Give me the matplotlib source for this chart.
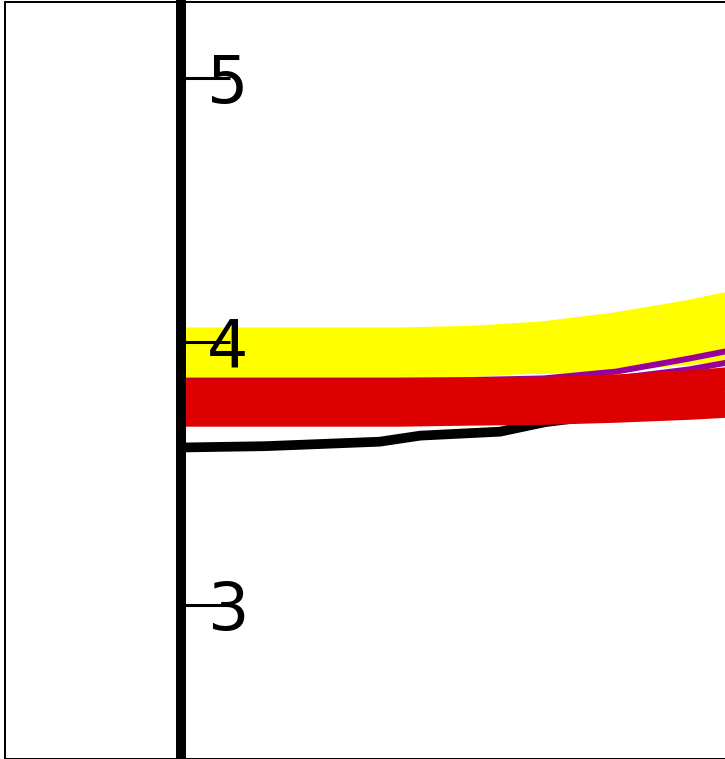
import matplotlib.pyplot as plt
from matplotlib.patches import Rectangle

# ---------- データ ----------
x_grid = [0, 1, 2, 3, 4, 5, 6, 7, 8]

yellow_main = [3.956, 3.956, 3.956, 3.956, 3.962, 3.979, 4.013, 4.059, 4.116]
yellow_low = [3.905, 3.905, 3.905, 3.905, 3.905, 3.909, 3.920, 3.943, 3.970]
purple_a = [3.852, 3.852, 3.852, 3.852, 3.854, 3.860, 3.886, 3.935, 3.989]
purple_b = [3.841, 3.841, 3.841, 3.841, 3.841, 3.844, 3.860, 3.894, 3.943]
red_top = [3.814, 3.814, 3.814, 3.814, 3.816, 3.820, 3.829, 3.844, 3.867]
red_low = [3.727, 3.727, 3.727, 3.727, 3.731, 3.734, 3.742, 3.753, 3.768]

x_black = [0, 1.16, 2.74, 3.30, 4.40, 5.02, 6, 7, 8]
black_vals = [3.598, 3.603, 3.620, 3.643, 3.658, 3.694, 3.728, 3.745, 3.760]

y_ticks = [3, 4, 5]
y_labels = ["3", "4", "5"]

# ---------- 図 ----------
W, H = 725, 759
fig = plt.figure(figsize=(W / 100, H / 100), dpi=100)
ax = fig.add_axes([181 / W, 0, 1.0, 1.0])
ax.patch.set_alpha(0)
ax.set_axisbelow(False)

ax.set_xlim(0, 10)
ax.set_ylim(2.416, 5.296)

# 線（下から順に）
style = dict(solid_capstyle="projecting")
ax.plot(x_grid, yellow_main, color="#ffff00", lw=37, **style)
ax.plot(x_grid, yellow_low, color="#ffff00", lw=12, **style)
ax.plot(x_grid, purple_a, color="#990099", lw=4.3, **style)
ax.plot(x_grid, purple_b, color="#990099", lw=4.3, **style)
ax.plot(x_black, black_vals, color="black", lw=7, **style)
ax.plot(x_grid, red_top, color="#dd0000", lw=17.5, **style)
ax.plot(x_grid, red_low, color="#dd0000", lw=19, **style)

# 軸
for side in ["top", "right", "bottom"]:
    ax.spines[side].set_visible(False)
ax.spines["left"].set_linewidth(7.2)
ax.set_xticks([])
ax.set_yticks(y_ticks)
ax.set_yticklabels(y_labels)
ax.tick_params(axis="y", direction="in", length=35, width=2.2,
               pad=-18.7, labelsize=47)
for lab in ax.get_yticklabels():
    lab.set_horizontalalignment("left")

# 外枠
fig.patches.append(Rectangle((5 / W, 0.5 / H), 1.5, 1 - 2.5 / H,
                             transform=fig.transFigure, fill=False,
                             edgecolor="black", lw=1.44))

fig.savefig("out.png", dpi=100)
